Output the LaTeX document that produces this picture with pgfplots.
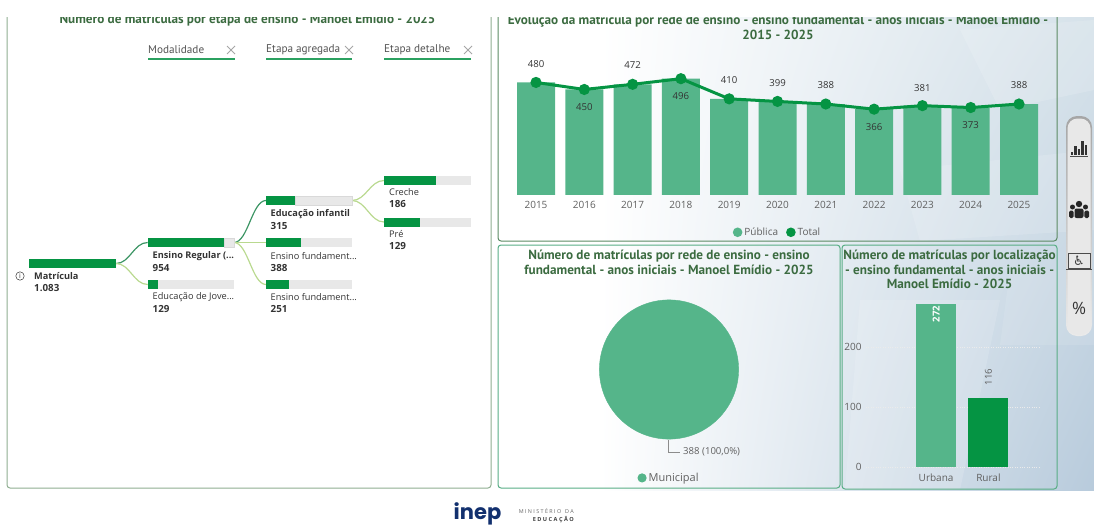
\documentclass[border=0pt]{standalone}
\usepackage{pgfplots}
\pgfplotsset{compat=1.18}
\usepackage{fontspec}
\usetikzlibrary{shadings}
\setmainfont{Open Sans}
\newfontfamily\titlefont{PT Sans}
\newfontfamily\symfont{DejaVu Sans}
\newfontfamily\logofont{Poppins}

\definecolor{barlight}{HTML}{55B58A}
\definecolor{bardark}{HTML}{059443}
\definecolor{titlegreen}{HTML}{3B6B40}
\definecolor{conndark}{HTML}{3C9564}
\definecolor{connlight}{HTML}{B9D98F}
\definecolor{track}{HTML}{E8E8E8}
\definecolor{txt}{HTML}{333333}
\definecolor{axtxt}{HTML}{606060}
\definecolor{borderA}{HTML}{8FAE91}
\definecolor{borderB}{HTML}{5B8A63}
\definecolor{borderC}{HTML}{58AD85}
\definecolor{bgtop}{HTML}{D6E2EA}
\definecolor{bgbot}{HTML}{B8CBDC}
\definecolor{filterline}{HTML}{2BA160}

\newcommand\fs[1]{\fontsize{#1}{#1}\selectfont}
% one node of the decomposition tree: x0, x green end, x1, y0, y1, style of the track
\newcommand\treebar[6][draw=none]{%
  \addplot[fill=track,#1] coordinates {(#3,#5)(#4,#5)(#4,#6)(#3,#6)} --cycle;
  \addplot[fill=bardark,draw=none] coordinates {(#2,#5)(#3,#5)(#3,#6)(#2,#6)} --cycle;
}
% two text lines under a tree bar
\newcommand\treetext[5]{%
  \node[anchor=west,inner sep=0pt,text=txt,font=\fs{9.2}#4] at (axis cs:#1,#2) {#3};
  \node[anchor=west,inner sep=0pt,text=txt,font=\fs{9.8}\bfseries] at (axis cs:#1,#2+12) {#5};
}
\newcommand\conn[5]{%
  \draw[#1,line width=1.2pt] (axis cs:#2,#3) .. controls (axis cs:#2+14,#3) and (axis cs:#4-14,#5) .. (axis cs:#4,#5);
}
% filter header: x0, x1, x of the cross, text
\newcommand\filterhead[4]{%
  \node[anchor=west,inner sep=0pt,text=axtxt!85!black,font=\titlefont\fs{11.2}] at (axis cs:#1,50) {#4};
  \draw[filterline,line width=1.5pt] (axis cs:#1,59) -- (axis cs:#2,59);
  \draw[black!35,line width=.9pt] (axis cs:#3-4,46) -- (axis cs:#3+4,54) (axis cs:#3-4,54) -- (axis cs:#3+4,46);
}
\newcommand\iconbar[2]{\fill[black!80] (axis cs:#1-1.3,155) rectangle (axis cs:#1+1.3,#2);}

\begin{document}
\begin{tikzpicture}[x=1pt,y=1pt]
\path[use as bounding box] (0,0) rectangle (1094,525);

% page, panels and tree
\begin{axis}[
  at={(0,0)},anchor=south west,scale only axis,width=1094pt,height=525pt,
  xmin=0,xmax=1094,ymin=0,ymax=525,y dir=reverse,hide axis,clip=false]

% background of the right side
\shade[upper left=white,lower left=white,upper right=bgtop,lower right=bgbot] (axis cs:600,15) rectangle (axis cs:1094,490);
\fill[white,opacity=.14] (axis cs:960,30) -- (axis cs:1094,20) -- (axis cs:1094,90) -- (axis cs:1000,110) -- cycle;
\fill[white,opacity=.14] (axis cs:900,170) -- (axis cs:1094,150) -- (axis cs:1094,230) -- (axis cs:920,241) -- cycle;
\fill[white,opacity=.14] (axis cs:860,300) -- (axis cs:1000,300) -- (axis cs:960,490) -- (axis cs:845,490) -- cycle;
\fill[white,opacity=.10] (axis cs:1010,270) -- (axis cs:1094,270) -- (axis cs:1094,345) -- (axis cs:1000,345) -- cycle;

% panel borders
\draw[borderA,line width=1pt,rounded corners=3pt] (axis cs:7,10) -- (axis cs:7,488) -- (axis cs:491,488) -- (axis cs:491,10);
\draw[borderB,line width=1pt,rounded corners=3pt] (axis cs:498,10) -- (axis cs:498,241) -- (axis cs:1057,241) -- (axis cs:1057,10);
\draw[borderC,line width=1pt,rounded corners=3pt] (axis cs:498,245) rectangle (axis cs:840,488);
\draw[borderC,line width=1pt,rounded corners=3pt] (axis cs:842,245) rectangle (axis cs:1057,489);

% titles
\node[text=titlegreen,font=\titlefont\fs{13.2}\bfseries] at (axis cs:247.5,20.5) {Número de matrículas por etapa de ensino - Manoel Emídio - 2025};
\node[text=titlegreen,font=\titlefont\fs{13.2}\bfseries,align=center] at (axis cs:778,27.5) {Evolução da matrícula por rede de ensino - ensino fundamental - anos iniciais - Manoel Emídio -\\[1.6pt]2015 - 2025};
\node[text=titlegreen,font=\titlefont\fs{13.2}\bfseries,align=center] at (axis cs:669,262) {Número de matrículas por rede de ensino - ensino\\[1.6pt]fundamental - anos iniciais - Manoel Emídio - 2025};
\node[text=titlegreen,font=\titlefont\fs{13.2}\bfseries,align=center] at (axis cs:949.5,269.5) {Número de matrículas por localização\\[1.6pt]- ensino fundamental - anos iniciais -\\[1.6pt]Manoel Emídio - 2025};

% filter headers
\filterhead{148}{235}{231}{Modalidade}
\filterhead{266}{352}{349}{Etapa agregada}
\filterhead{384}{471}{468}{Etapa detalhe}

% tree connectors
\conn{conndark}{116}{263.5}{147.7}{242.5}
\conn{connlight}{116}{263.5}{147.7}{284.5}
\conn{conndark}{234}{242.5}{266}{200.5}
\conn{connlight}{234}{242.5}{266}{242.5}
\conn{connlight}{234}{242.5}{266}{284.5}
\conn{connlight}{352}{200.5}{384}{180.5}
\conn{connlight}{352}{200.5}{384}{222}

% tree bars
\treebar{29}{116}{116}{259}{268}
\treebar[draw=black!15]{147.7}{224.3}{234.3}{238}{247}
\treebar{147.7}{158}{234.3}{280}{289}
\treebar[draw=black!15]{266}{295}{352}{196}{205}
\treebar{266}{301}{352}{238}{247}
\treebar{266}{289}{352}{280}{289}
\treebar{384}{436}{471}{176}{185}
\treebar{384}{420}{471}{218}{226.5}

% tree texts
\treetext{34}{276}{Matrícula}{\bfseries}{1.083}
\treetext{152.5}{256}{Ensino Regular (...}{\bfseries}{954}
\treetext{152.5}{297}{Educação de Jove...}{}{129}
\treetext{270.5}{214}{Educação infantil}{\bfseries}{315}
\treetext{270.5}{256}{Ensino fundament...}{}{388}
\treetext{270.5}{297}{Ensino fundament...}{}{251}
\treetext{389}{192}{Creche}{}{186}
\treetext{389}{234}{Pré}{}{129}
\draw[txt,line width=.5pt] (axis cs:20,276) circle (4.2pt);
\node[text=txt,font=\fs{7}] at (axis cs:20,276) {i};

% side toolbar
\shade[top color=black!35,bottom color=black!8,rounded corners=11pt] (axis cs:1066,116) rectangle (axis cs:1092,336);
\fill[black!9,rounded corners=10pt] (axis cs:1067.5,118.5) rectangle (axis cs:1090.5,334.5);
\iconbar{1072}{152}
\iconbar{1075.5}{146}
\iconbar{1079}{149}
\iconbar{1082.5}{141}
\iconbar{1086}{145}
\draw[black!70,line width=.7pt] (axis cs:1070,156) -- (axis cs:1088,156);
\fill[black!85] (axis cs:1079,204) circle (3.2pt);
\fill[black!85] (axis cs:1072.5,207) circle (2.5pt);
\fill[black!85] (axis cs:1085.5,207) circle (2.5pt);
\fill[black!85,rounded corners=2pt] (axis cs:1074.5,218) rectangle (axis cs:1083.5,208.5);
\fill[black!85,rounded corners=1.5pt] (axis cs:1069,218) rectangle (axis cs:1073.6,210.5);
\fill[black!85,rounded corners=1.5pt] (axis cs:1084.4,218) rectangle (axis cs:1089,210.5);
\draw[black!70,line width=.6pt] (axis cs:1068,253) rectangle (axis cs:1090,268);
\draw[black!70,line width=1pt] (axis cs:1066,269) -- (axis cs:1092,269);
\node[text=black!75,font=\symfont\fs{13}] at (axis cs:1079,261) {♿};
\node[text=black!80,font=\fs{17}] at (axis cs:1079,308) {\%};

% footer
\node[text={rgb,255:red,18;green,48;blue,110},font=\logofont\fs{21}\bfseries] at (axis cs:477.5,514) {inep};
\node[anchor=east,inner sep=0pt,text=black!60,font=\fs{5.4}] at (axis cs:574,511) {M I N I S T É R I O\ \ \,D A};
\node[anchor=east,inner sep=0pt,text=black!75,font=\fs{5.6}\bfseries] at (axis cs:574,520) {E D U C A Ç Ã O};

% pie callout
\draw[black!45,line width=.5pt] (axis cs:668,440) -- (axis cs:668,452) -- (axis cs:680,452);
\node[anchor=west,inner sep=0pt,text=axtxt,font=\fs{9.6}] at (axis cs:683,452) {388 (100,0\%)};
\end{axis}

% enrolment by year
\begin{axis}[
  at={(511.85pt,330pt)},anchor=south west,scale only axis,width=531.3pt,height=140.7pt,
  xmin=2014.5,xmax=2025.5,ymin=0,ymax=600,clip=false,
  axis x line*=bottom,axis y line=none,x axis line style={draw=none},
  xtick={2015,...,2025},major tick length=0pt,
  xticklabel style={font=\fs{10},text=axtxt,yshift=-3pt},
  /pgf/number format/assume math mode=true,/pgf/number format/1000 sep={},
  legend style={at={(0.5,-0.265)},anchor=center,draw=none,fill=none,font=\fs{10},text=axtxt,
    legend columns=2,/tikz/every even column/.append style={column sep=6pt},inner sep=0pt},
]
\addplot[ybar,bar width=38pt,fill=barlight,draw=none,
  legend image code/.code={\fill[barlight,draw=none] (0.1,0) circle (4.8pt);}] coordinates {
  (2015,480)(2016,450)(2017,472)(2018,496)(2019,410)(2020,399)(2021,388)(2022,366)(2023,381)(2024,373)(2025,388)};
\addplot[color=bardark,line width=3pt,mark=*,mark size=4pt,mark options={draw=none,fill=bardark},
  legend image code/.code={\fill[bardark,draw=none] (0.1,0) circle (4.8pt);}] coordinates {
  (2015,480)(2016,450)(2017,472)(2018,496)(2019,410)(2020,399)(2021,388)(2022,366)(2023,381)(2024,373)(2025,388)};
\addplot[draw=none,mark=none,forget plot,nodes near coords,point meta=explicit symbolic,
  every node near coord/.style={font=\fs{9.6},text=black!80,anchor=center,inner sep=0pt}]
  table[x=x,y=y,meta=v] {
x y v
2015 558 480
2016 375 450
2017 554 472
2018 422 496
2019 490 410
2020 477 399
2021 469 388
2022 290 366
2023 456 381
2024 299 373
2025 469 388
};
\legend{Pública,Total}
\end{axis}

% enrolment by network
\begin{axis}[
  at={(599pt,86pt)},anchor=south west,scale only axis,width=140pt,height=139pt,
  xmin=-1,xmax=1,ymin=-1,ymax=1,hide axis,clip=false,
  legend style={at={(0.5,-0.28)},anchor=center,draw=none,fill=none,font=\fs{11},text=axtxt,inner sep=0pt},
]
\addplot[only marks,mark=*,mark size=69.6pt,color=barlight,
  legend image code/.code={\fill[barlight,draw=none] (0.28,0) circle (4.6pt);}] coordinates {(0,0)};
\legend{Municipal}
\end{axis}

% enrolment by location
\begin{axis}[
  at={(866pt,57.7pt)},anchor=south west,scale only axis,width=174.2pt,height=174.4pt,
  xmin=-1.34,xmax=1.99,ymin=0,ymax=290,clip=false,
  axis x line*=bottom,axis y line*=left,
  x axis line style={draw=none},y axis line style={draw=none},
  major tick length=0pt,
  xtick={0,1},xticklabels={Urbana,Rural},ytick={0,100,200},
  xticklabel style={font=\fs{10},text=axtxt,yshift=-3pt},
  yticklabel style={font=\fs{10},text=axtxt,xshift=-1pt},
  /pgf/number format/assume math mode=true,
  ymajorgrids,grid style={black!8,dotted},
]
\addplot[ybar,bar width=40pt,fill=barlight,draw=none] coordinates {(0,272)};
\addplot[ybar,bar width=40pt,fill=bardark,draw=none] coordinates {(1,116)};
\addplot[draw=none,mark=none,nodes near coords,point meta=explicit symbolic,
  every node near coord/.style={font=\fs{9.6}\bfseries,text=white,anchor=center,rotate=90,inner sep=0pt}]
  table[x=x,y=y,meta=v] {
x y v
0 255 272
};
\addplot[draw=none,mark=none,nodes near coords,point meta=explicit symbolic,
  every node near coord/.style={font=\fs{9.6},text=axtxt,anchor=center,rotate=90,inner sep=0pt}]
  table[x=x,y=y,meta=v] {
x y v
1 150 116
};
\end{axis}

% the page cuts the panels off at the top
\fill[white] (0,508) rectangle (1094,525);
\end{tikzpicture}
\end{document}
